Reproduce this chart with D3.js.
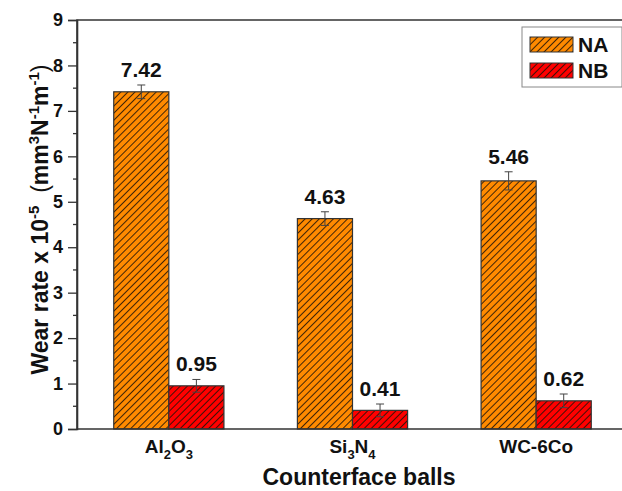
<!DOCTYPE html>
<html>
<head>
<meta charset="utf-8">
<script src="https://cdn.jsdelivr.net/npm/d3@7"></script>
<style>
  body { margin: 0; background: #fff; }
  text { font-family: Arial, "Liberation Sans", sans-serif; font-weight: bold; }
</style>
</head>
<body>
<div id="chart"></div>
<script>
// wear rate per counterface ball
let balls = ["Al2O3", "Si3N4", "WC-6Co"]
let series = ["NA", "NB"]
let naValues = [7.42, 4.63, 5.46]
let nbValues = [0.95, 0.41, 0.62]
let naErrors = [0.15, 0.15, 0.2]
let nbErrors = [0.14, 0.14, 0.15]
let yTicks = [0, 1, 2, 3, 4, 5, 6, 7, 8, 9]

let width = 622
let height = 491
let margin = { top: 20, right: -6, bottom: 62, left: 77 }

let svg = d3.select("#chart").append("svg")
    .attr("width", width)
    .attr("height", height)

let defs = svg.append("defs")
let fills = { NA: "#ff8a00", NB: "#ff0000" }
series.forEach(s => {
    let p = defs.append("pattern")
        .attr("id", "hatch" + s)
        .attr("patternUnits", "userSpaceOnUse")
        .attr("width", 5)
        .attr("height", 5)
        .attr("patternTransform", "rotate(45)")
    p.append("rect").attr("width", 5).attr("height", 5).attr("fill", fills[s])
    p.append("line")
        .attr("x1", 0).attr("y1", 0).attr("x2", 0).attr("y2", 5)
        .attr("stroke", "#1e1208").attr("stroke-width", 1.7)
})

let x = d3.scaleBand()
    .domain(balls)
    .range([margin.left, width - margin.right])
    .paddingInner(0.4)
    .paddingOuter(0.2)

let xSub = d3.scaleBand()
    .domain(series)
    .range([0, x.bandwidth()])

let y = d3.scaleLinear()
    .domain([0, 9])
    .range([height - margin.bottom, margin.top])

// flatten into rows
let rows = []
balls.forEach((b, i) => {
    rows.push({ ball: b, s: "NA", v: naValues[i], e: naErrors[i] })
    rows.push({ ball: b, s: "NB", v: nbValues[i], e: nbErrors[i] })
})

let g = svg.append("g")

// bars
g.selectAll("rect.bar")
    .data(rows)
    .join("rect")
    .attr("class", "bar")
    .attr("x", d => x(d.ball) + xSub(d.s))
    .attr("y", d => y(d.v))
    .attr("width", xSub.bandwidth())
    .attr("height", d => y(0) - y(d.v))
    .attr("fill", d => "url(#hatch" + d.s + ")")
    .attr("stroke", "#333")
    .attr("stroke-width", 1.2)

// error bars
let cx = d => x(d.ball) + xSub(d.s) + xSub.bandwidth() / 2
let err = g.selectAll("g.err")
    .data(rows)
    .join("g")
    .attr("class", "err")
    .attr("stroke", "#444")
    .attr("stroke-width", 1)
err.append("line")
    .attr("x1", cx).attr("x2", cx)
    .attr("y1", d => y(d.v + d.e)).attr("y2", d => y(d.v - d.e))
err.append("line")
    .attr("x1", d => cx(d) - 4).attr("x2", d => cx(d) + 4)
    .attr("y1", d => y(d.v + d.e)).attr("y2", d => y(d.v + d.e))
err.append("line")
    .attr("x1", d => cx(d) - 4).attr("x2", d => cx(d) + 4)
    .attr("y1", d => y(d.v - d.e)).attr("y2", d => y(d.v - d.e))

// value labels
g.selectAll("text.val")
    .data(rows)
    .join("text")
    .attr("class", "val")
    .attr("x", cx)
    .attr("y", d => y(d.v + d.e) - 8)
    .attr("text-anchor", "middle")
    .attr("font-size", 21)
    .attr("fill", "#111")
    .text(d => d.v.toFixed(2))

// frame
let x0 = margin.left, x1 = width - margin.right
let y0 = y(0), y1 = y(9)
svg.append("path")
    .attr("d", `M${x0},${y1}H${x1}V${y0}H${x0}Z`)
    .attr("fill", "none")
    .attr("stroke", "#333")
    .attr("stroke-width", 1.6)

// y axis
let yAxis = svg.append("g")
    .attr("transform", `translate(${x0},0)`)
    .call(d3.axisLeft(y).tickValues(yTicks).tickSize(9).tickPadding(5).tickFormat(d3.format("d")))
yAxis.select(".domain").attr("stroke", "#333").attr("stroke-width", 1.6)
yAxis.selectAll(".tick line").attr("stroke", "#333").attr("stroke-width", 1.3)
yAxis.selectAll(".tick text").attr("font-size", 18).attr("fill", "#111").attr("font-family", "Arial, 'Liberation Sans', sans-serif").attr("font-weight", "bold")

let minor = d3.range(0.5, 9, 1)
svg.append("g").selectAll("line")
    .data(minor)
    .join("line")
    .attr("x1", x0 - 4).attr("x2", x0)
    .attr("y1", d => y(d)).attr("y2", d => y(d))
    .attr("stroke", "#333").attr("stroke-width", 1.3)

// x labels with subscripts
let xLabels = { "Al2O3": [["Al", 0], ["2", 1], ["O", 0], ["3", 1]], "Si3N4": [["Si", 0], ["3", 1], ["N", 0], ["4", 1]], "WC-6Co": [["WC-6Co", 0]] }
balls.forEach(b => {
    let t = svg.append("text")
        .attr("x", x(b) + x.bandwidth() / 2)
        .attr("y", 453)
        .attr("text-anchor", "middle")
        .attr("font-size", 19)
        .attr("fill", "#111")
    xLabels[b].forEach(([s, sub], i) => {
        t.append("tspan")
            .attr("font-size", sub ? 13 : 19)
            .attr("dy", sub ? 6 : (i > 0 ? -6 : 0))
            .text(s)
    })
})

// axis titles
svg.append("text")
    .attr("x", 359)
    .attr("y", 485)
    .attr("text-anchor", "middle")
    .attr("font-size", 23)
    .attr("fill", "#111")
    .text("Counterface balls")

let yt = svg.append("text")
    .attr("transform", `translate(48,${(y0 + y1) / 2 - 5}) rotate(-90)`)
    .attr("text-anchor", "middle")
    .attr("font-size", 23)
    .attr("fill", "#111")
yt.append("tspan").text("Wear rate x 10")
yt.append("tspan").attr("font-size", 15).attr("dy", -9).text("-5")
yt.append("tspan").attr("dy", 9).attr("font-weight", "normal").text(" \u00a0(")
yt.append("tspan").text("mm")
yt.append("tspan").attr("font-size", 15).attr("dy", -9).text("3")
yt.append("tspan").attr("dy", 9).text("N")
yt.append("tspan").attr("font-size", 15).attr("dy", -9).text("-1")
yt.append("tspan").attr("dy", 9).text("m")
yt.append("tspan").attr("font-size", 15).attr("dy", -9).text("-1")
yt.append("tspan").attr("dy", 9).attr("font-weight", "normal").text(")")

// legend
let legend = svg.append("g").attr("transform", "translate(522,27)")
legend.append("rect")
    .attr("width", 100).attr("height", 60)
    .attr("fill", "#fff")
    .attr("stroke", "#888")
    .attr("stroke-width", 1)
let li = legend.selectAll("g.item")
    .data(series)
    .join("g")
    .attr("class", "item")
    .attr("transform", (d, i) => `translate(8,${10 + i * 26})`)
li.append("rect")
    .attr("width", 43).attr("height", 15)
    .attr("fill", d => "url(#hatch" + d + ")")
    .attr("stroke", "#333")
li.append("text")
    .attr("x", 48).attr("y", 15)
    .attr("font-size", 21)
    .attr("fill", "#111")
    .text(d => d)
</script>
</body>
</html>
